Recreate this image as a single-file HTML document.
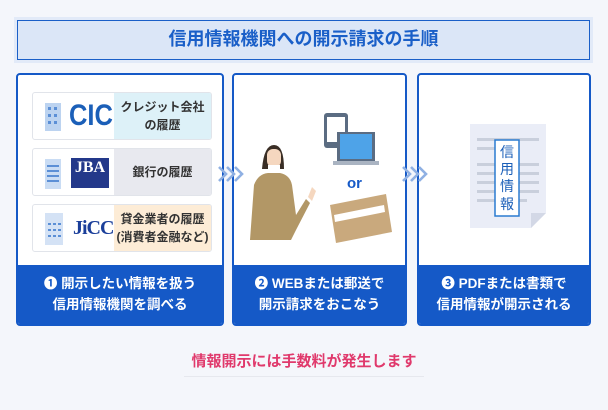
<!DOCTYPE html>
<html><head><meta charset="utf-8"><style>
*{margin:0;padding:0;box-sizing:border-box}
body{width:608px;height:410px;background:#f4f6fb;font-family:"Liberation Sans","Noto Sans CJK JP",sans-serif;position:relative;overflow:hidden}
.title{position:absolute;left:17px;top:20px;width:573px;height:40px;background:#dbe6f7;border:1.5px solid #1a5fc8;outline:3px solid #e2eaf8;color:#1a5fc8;font-weight:bold;font-size:18px;text-align:center;line-height:37px}
.panel{position:absolute;top:73px;height:253px;background:#fff;border:2px solid #1559c7;border-radius:4px;overflow:hidden}
.foot{position:absolute;left:0;right:0;bottom:0;height:59px;background:#1559c7;color:#fff;font-weight:bold;font-size:13.5px;text-align:center;line-height:21px;padding-top:8px}
.row{position:absolute;left:14px;width:180px;height:48px;border:1px solid #e1e4ea;border-radius:3px;background:#fff;overflow:hidden}
.row .r{position:absolute;left:81px;top:0;right:0;bottom:0;font-size:12px;font-weight:bold;color:#333;display:flex;align-items:center;justify-content:center;text-align:center;line-height:18px}
.chev{position:absolute;z-index:5}
</style></head><body>
<div class="title">信用情報機関への開示請求の手順</div>

<div class="panel" style="left:16px;width:208px">
 <div class="row" style="top:17px">
  <svg style="position:absolute;left:12px;top:10px" width="16" height="28"><rect width="16" height="28" fill="#bcd3f0"/><g fill="#5b8fd6"><rect x="3" y="4" width="3" height="3"/><rect x="9" y="4" width="3" height="3"/><rect x="3" y="11" width="3" height="3"/><rect x="9" y="11" width="3" height="3"/><rect x="3" y="18" width="3" height="3"/><rect x="9" y="18" width="3" height="3"/></g></svg>
  <div style="position:absolute;left:36px;top:6px;font-size:30px;font-weight:bold;color:#1b5fb8;font-family:'Liberation Sans Narrow','Liberation Sans',sans-serif;transform:scaleX(.85);transform-origin:left">CIC</div>
  <div class="r" style="background:#ddf1f8">クレジット会社<br>の履歴</div>
 </div>
 <div class="row" style="top:73px">
  <svg style="position:absolute;left:12px;top:10px" width="16" height="30"><rect width="16" height="30" fill="#c9dcf4"/><g fill="#5b8fd6"><rect x="2" y="6" width="12" height="2"/><rect x="2" y="11" width="12" height="2"/><rect x="2" y="16" width="12" height="2"/><rect x="2" y="21" width="12" height="2"/></g></svg>
  <div style="position:absolute;left:38px;top:9px;width:38px;height:30px;background:#23388a;color:#fff;font-family:'Liberation Serif',serif;font-weight:bold;font-size:16px;text-align:center;line-height:20px">JBA</div>
  <div class="r" style="background:#e8e9ef">銀行の履歴</div>
 </div>
 <div class="row" style="top:129px">
  <svg style="position:absolute;left:12px;top:8px" width="18" height="32"><rect width="18" height="32" fill="#d4e2f5"/><g fill="#5b8fd6"><rect x="3" y="10" width="3" height="2"/><rect x="8" y="10" width="3" height="2"/><rect x="13" y="10" width="3" height="2"/><rect x="3" y="16" width="3" height="2"/><rect x="8" y="16" width="3" height="2"/><rect x="13" y="16" width="3" height="2"/><rect x="3" y="22" width="3" height="2"/><rect x="8" y="22" width="3" height="2"/><rect x="13" y="22" width="3" height="2"/></g></svg>
  <div style="position:absolute;left:40px;top:12px;font-size:20px;font-weight:bold;color:#1b3f9a;font-family:'Liberation Serif',serif;letter-spacing:-1px">JiCC</div>
  <div class="r" style="background:#fdecd6">貸金業者の履歴<br>(消費者金融など)</div>
 </div>
 <div class="foot">❶ 開示したい情報を扱う<br>信用情報機関を調べる</div>
</div>

<div class="panel" style="left:232px;width:175px">
 <svg style="position:absolute;left:0;top:0" width="175" height="195">
  <rect x="90" y="38" width="24" height="35" rx="3" fill="#5b6c82"/><rect x="93" y="42" width="18" height="25" fill="#fff"/>
  <rect x="103" y="57" width="38" height="29" fill="#5b6c82"/><rect x="106" y="59" width="32" height="25" fill="#4ea3e8"/><rect x="99" y="86" width="46" height="4" fill="#aab4c2"/>
  <path d="M28 94 Q30 70 40 70 Q50 70 50 94 Z" fill="#3a2e25"/><rect x="33" y="74" width="14" height="18" rx="6" fill="#f5d7bf"/><rect x="34" y="90" width="12" height="12" fill="#fff"/>
  <path d="M16 165 L20 110 Q24 99 34 98 L46 98 Q56 100 58 110 L62 140 L72 124 L76 128 L62 155 L57 165 Z" fill="#b29766"/>
  <path d="M74 122 L78 112 L82 116 L78 126Z" fill="#f5d7bf"/>
  <text x="113" y="113" font-family="Liberation Sans,sans-serif" font-weight="bold" font-size="15" fill="#1559c7">or</text>
  <path d="M96 130 L152 119 L158 157 L102 168 Z" fill="#c9a97d"/><path d="M100 140 L150 130 L151 137 L101 147Z" fill="#fff"/>
 </svg>
 <div class="foot">❷ WEBまたは郵送で<br>開示請求をおこなう</div>
</div>

<div class="panel" style="left:417px;width:174px">
 <svg style="position:absolute;left:0;top:0" width="174" height="195">
  <path d="M51 49 L127 49 L127 138 L112 153 L51 153 Z" fill="#eaedf7"/><path d="M112 153 L127 138 L112 138Z" fill="#d3d8e6"/>
  <g fill="#c9cfdc"><rect x="58" y="63" width="62" height="3"/><rect x="58" y="72" width="30" height="3"/><rect x="58" y="88" width="62" height="3"/><rect x="58" y="97" width="62" height="3"/><rect x="58" y="106" width="62" height="3"/><rect x="58" y="115" width="62" height="3"/><rect x="58" y="124" width="50" height="3"/></g>
  <rect x="76" y="65" width="24" height="76" fill="#fff" stroke="#2a7bd0" stroke-width="1.5"/>
  <text x="88" y="82" text-anchor="middle" font-size="14" fill="#1b5fb8" font-family="Noto Sans CJK JP,sans-serif">信</text>
  <text x="88" y="99" text-anchor="middle" font-size="14" fill="#1b5fb8" font-family="Noto Sans CJK JP,sans-serif">用</text>
  <text x="88" y="116" text-anchor="middle" font-size="14" fill="#1b5fb8" font-family="Noto Sans CJK JP,sans-serif">情</text>
  <text x="88" y="134" text-anchor="middle" font-size="14" fill="#1b5fb8" font-family="Noto Sans CJK JP,sans-serif">報</text>
 </svg>
 <div class="foot">❸ PDFまたは書類で<br>信用情報が開示される</div>
</div>

<svg class="chev" style="left:217px;top:164px" width="30" height="20"><g fill="none" stroke="#8fb0e3" stroke-width="2.6"><path d="M2 3 L9 10 L2 17"/><path d="M10 3 L17 10 L10 17"/><path d="M18 3 L25 10 L18 17"/></g></svg>
<svg class="chev" style="left:401px;top:164px" width="30" height="20"><g fill="none" stroke="#8fb0e3" stroke-width="2.6"><path d="M2 3 L9 10 L2 17"/><path d="M10 3 L17 10 L10 17"/><path d="M18 3 L25 10 L18 17"/></g></svg>

<div style="position:absolute;left:184px;top:351px;width:240px;text-align:center;color:#e0396c;font-weight:bold;font-size:15px;line-height:22px;border-bottom:1px solid #e6e8ee;padding-bottom:3px">情報開示には手数料が発生します</div>
</body></html>
